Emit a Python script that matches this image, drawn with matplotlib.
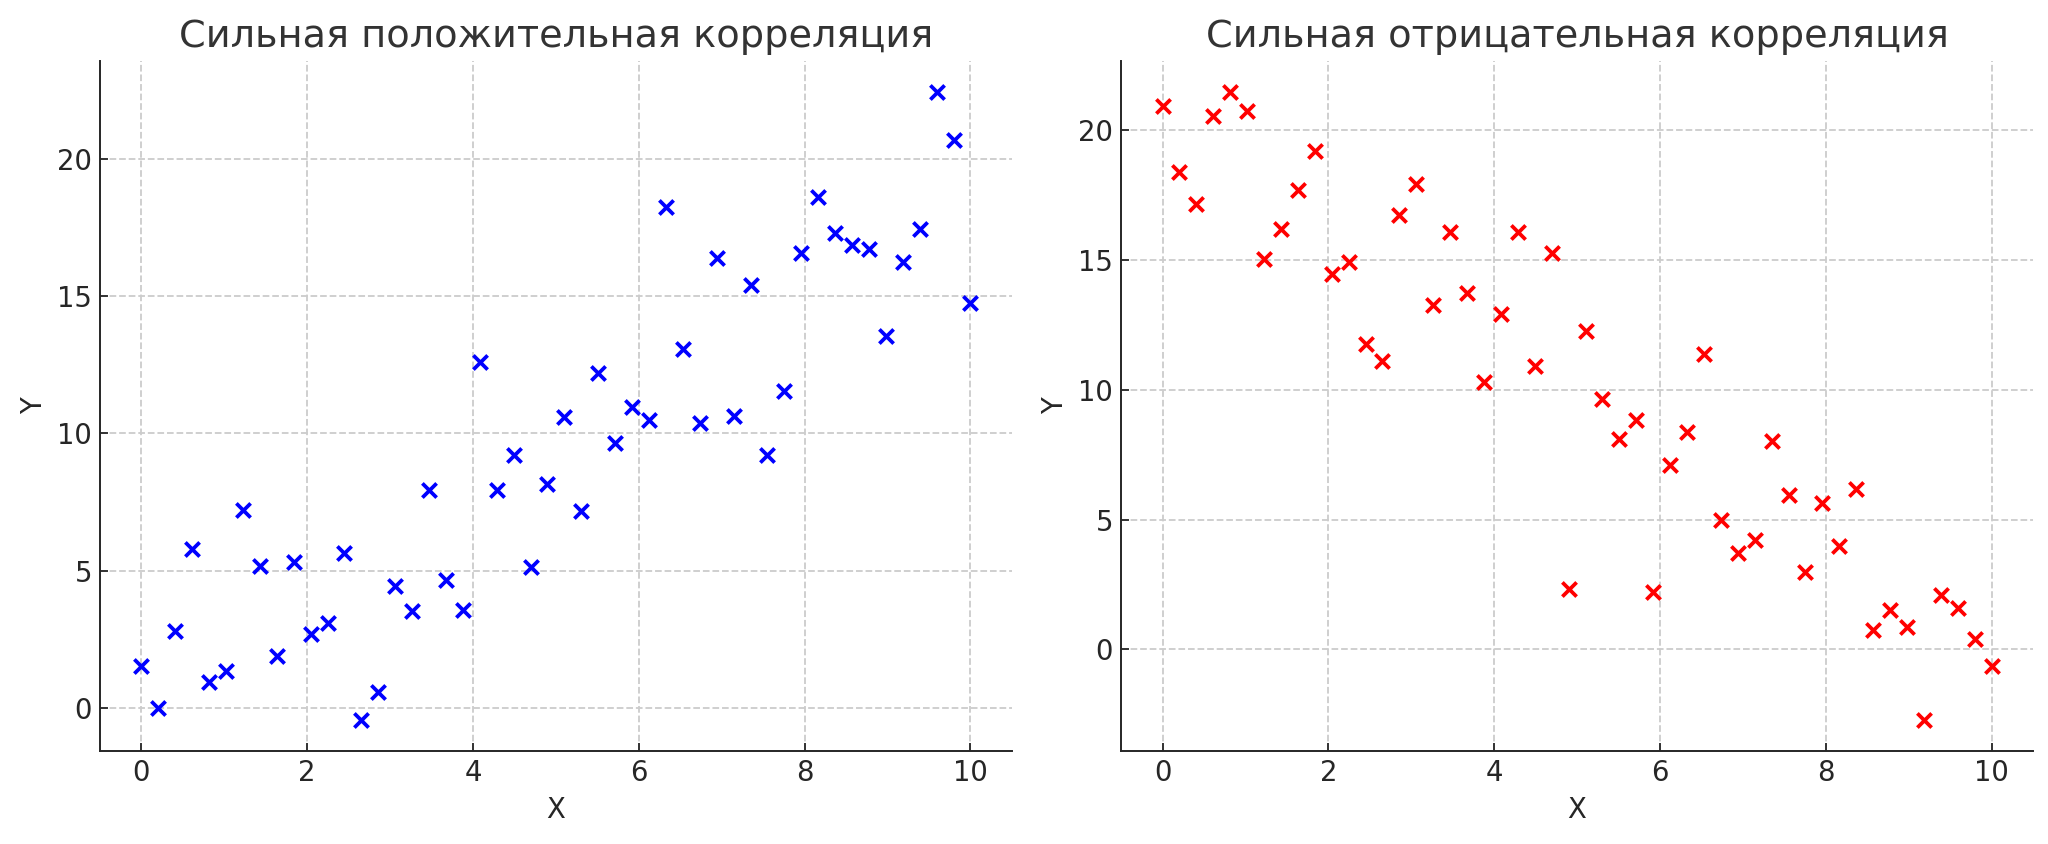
import numpy as np
import matplotlib
matplotlib.use("Agg")
import matplotlib.pyplot as plt

x = np.linspace(0, 10, 50)

y_pos = [1.52, 0.0, 2.8, 5.8, 0.95, 1.33, 7.22, 5.18, 1.9, 5.32,
         2.7, 3.09, 5.65, -0.43, 0.57, 4.42, 3.52, 7.93, 4.66, 3.56,
         12.59, 7.93, 9.22, 5.13, 8.17, 10.59, 7.17, 12.21, 9.64, 10.97,
         10.5, 18.24, 13.06, 10.36, 16.39, 10.64, 15.39, 9.22, 11.54, 16.58,
         18.62, 17.29, 16.86, 16.72, 13.54, 16.25, 17.43, 22.42, 20.67, 14.73]

y_neg = [20.95, 18.39, 17.14, 20.55, 21.46, 20.75, 15.03, 16.18, 17.69, 19.2,
         14.47, 14.92, 11.76, 11.11, 16.73, 17.94, 13.27, 16.08, 13.72, 10.3,
         12.91, 16.08, 10.9, 15.28, 2.31, 12.26, 9.65, 8.09, 8.84, 2.21,
         7.09, 8.39, 11.36, 4.97, 3.71, 4.22, 8.04, 5.93, 2.96, 5.63,
         3.97, 6.18, 0.75, 1.51, 0.85, -2.71, 2.11, 1.61, 0.4, -0.65]

titles = ["Сильная положительная корреляция", "Сильная отрицательная корреляция"]
colors = ["#0000ff", "#ff0000"]
series = [y_pos, y_neg]

text_color = "#262626"
plt.rcParams["font.family"] = ["DejaVu Sans"]

fig = plt.figure(figsize=(20.48, 8.44), dpi=100)
positions = [[0.0488, 0.1102, 0.4453, 0.8175], [0.5474, 0.1102, 0.4453, 0.8175]]

for pos, ys, col, title in zip(positions, series, colors, titles):
    ax = fig.add_axes(pos)
    ax.scatter(x, ys, marker="x", color=col, s=105, linewidths=2.7, zorder=3)
    ax.set_title(title, fontsize=27.5, color="#333333", pad=9.9)
    ax.set_xlabel("X", fontsize=19.8, color=text_color, labelpad=6.6)
    ax.set_ylabel("Y", fontsize=19.8, color=text_color, labelpad=6.6)
    ax.grid(True, linestyle="--", color="#cccccc", linewidth=1.3)
    ax.set_axisbelow(True)
    for s in ["top", "right"]:
        ax.spines[s].set_visible(False)
    for s in ["left", "bottom"]:
        ax.spines[s].set_color(text_color)
        ax.spines[s].set_linewidth(1.4)
    ax.tick_params(direction="in", length=5.8, width=1.3, colors=text_color,
                   labelsize=19.8, pad=5.8)
    ax.set_xticks([0, 2, 4, 6, 8, 10])
    ax.set_yticks([0, 5, 10, 15, 20])

fig.savefig("out.png", dpi=100)
